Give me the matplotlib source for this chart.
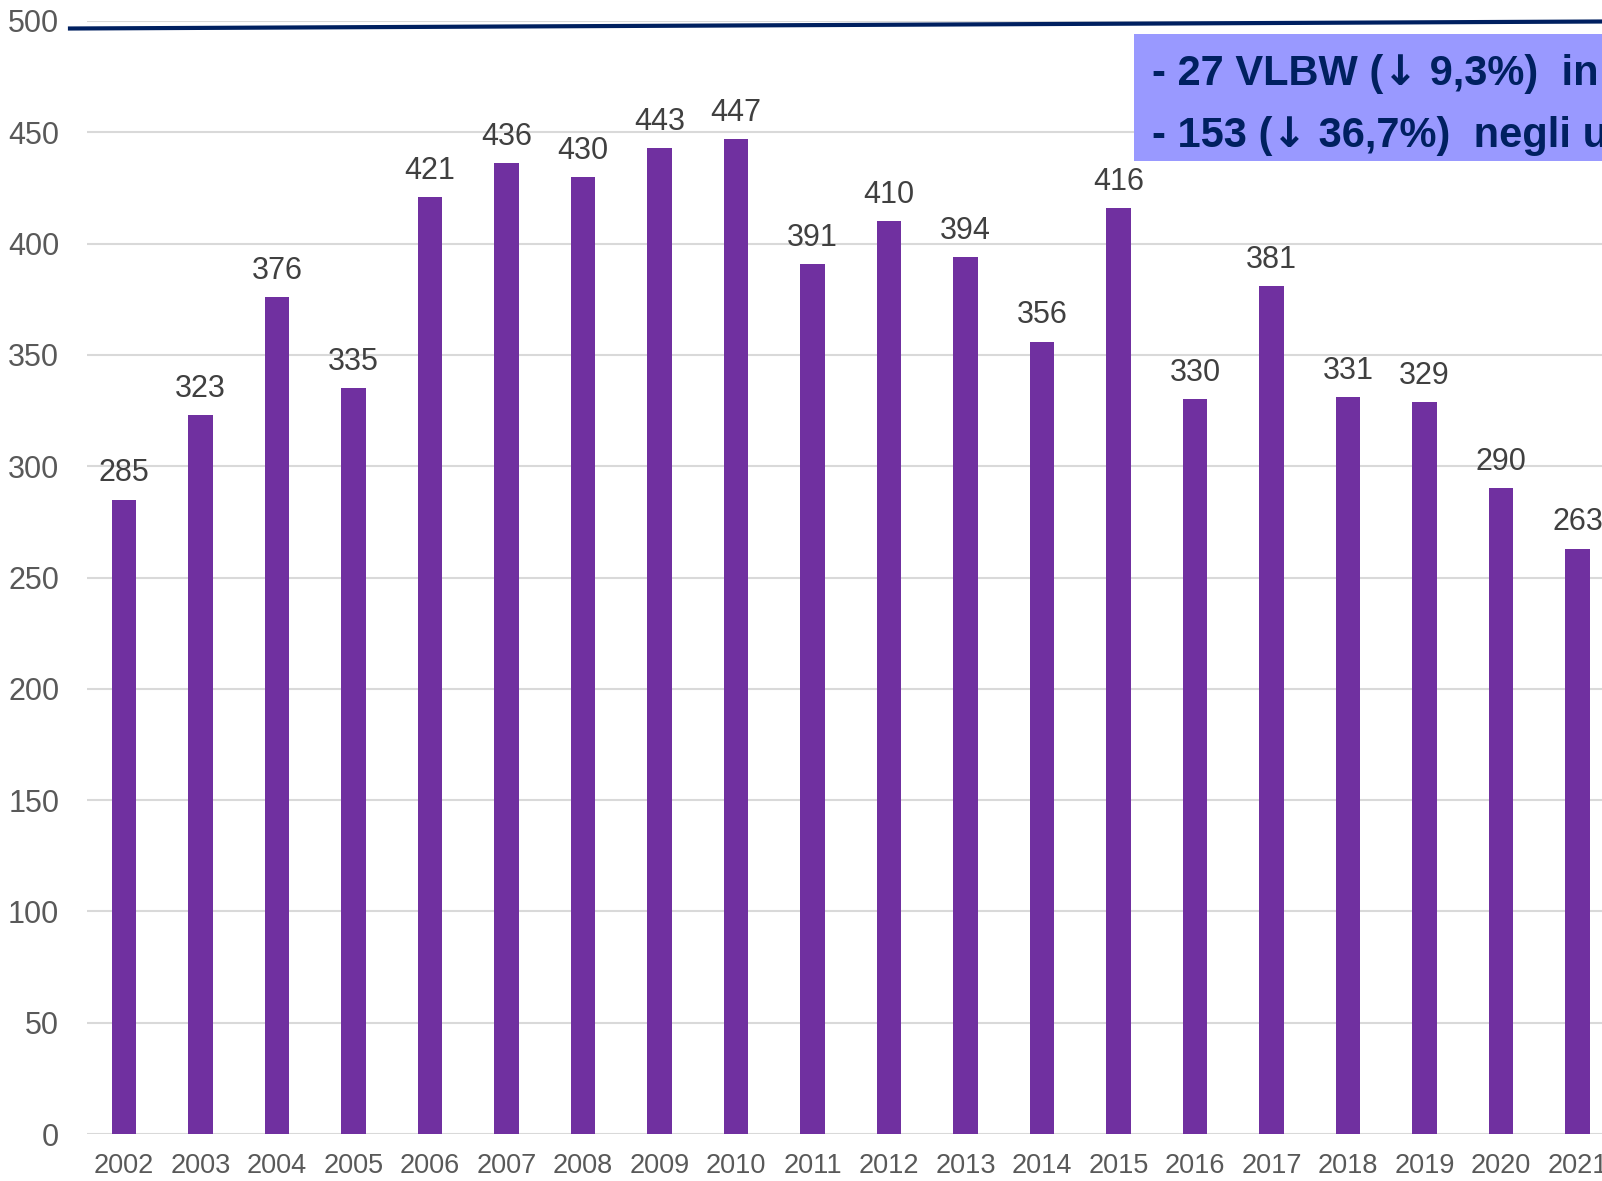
import matplotlib.pyplot as plt
from matplotlib.lines import Line2D
from matplotlib.patches import Rectangle

years = [str(y) for y in range(2002, 2022)]
values = [285, 323, 376, 335, 421, 436, 430, 443, 447, 391,
          410, 394, 356, 416, 330, 381, 331, 329, 290, 263]
yticks = [0, 50, 100, 150, 200, 250, 300, 350, 400, 450, 500]
# note box lines, split around the arrow so it can use another font
box_lines = [("- 27 VLBW (", "\u2193", " 9,3%)  in"),
             ("- 153 (", "\u2193", " 36,7%)  negli u")]

plt.rcParams['font.family'] = ['Liberation Sans', 'DejaVu Sans']

W, H = 1602, 1181
fig = plt.figure(figsize=(W / 100, H / 100), dpi=100)

# axes placed in pixel terms, right side runs off the figure (cropped slide)
left_px, right_px = 87, 1602
bottom_px, top_px = 1134, 21
ax = fig.add_axes([left_px / W, (H - bottom_px) / H,
                   (right_px - left_px) / W, (bottom_px - top_px) / H])

x = list(range(len(years)))
ax.bar(x, values, width=0.32, color='#7030A0', zorder=3)

first_px, step_px = 124, 76.5
ax.set_xlim((left_px - first_px) / step_px, (right_px - first_px) / step_px)
ax.set_ylim(0, 500)
ax.set_yticks(yticks)
ax.set_xticks(x)
ax.set_xticklabels(years)
ax.tick_params(axis='both', length=0, colors='#595959')
ax.tick_params(axis='x', pad=14, labelsize=19.5)
ax.tick_params(axis='y', pad=20, labelsize=22)
for lab in ax.get_xticklabels() + ax.get_yticklabels():
    lab.set_clip_on(False)

ax.grid(axis='y', color='#d9d9d9', linewidth=1.5, zorder=0)
for s in ax.spines.values():
    s.set_visible(False)

for xi, v in zip(x, values):
    ax.annotate(str(v), (xi, v), xytext=(0, 8), textcoords='offset points',
                ha='center', va='bottom', fontsize=22, color='#404040')

# navy rule under the slide title
fig.add_artist(Line2D([70 / W, 1.0], [1 - 28.5 / H, 1 - 21.5 / H],
                      color='#002060', linewidth=3, transform=fig.transFigure))

# highlighted note box (cut at the right edge)
fig.add_artist(Rectangle((1134 / W, 1 - 161 / H), (W - 1134) / W, 127 / H,
                         facecolor='#9999FF', edgecolor='none',
                         transform=fig.transFigure, zorder=5))
txt_style = dict(fontsize=30, fontweight='bold', color='#002060', zorder=6)
for (a, arrow, b), ypx in zip(box_lines, [85, 147]):
    t1 = fig.text(1152 / W, 1 - ypx / H, a, va='baseline', ha='left', **txt_style)
    # chain the pieces so each starts where the previous one ends
    t2 = fig.add_artist(plt.Annotation(arrow, xy=(1, 0), xycoords=t1,
                                       va='bottom', ha='left',
                                       family='DejaVu Sans', **txt_style))
    fig.add_artist(plt.Annotation(b, xy=(1, 0), xycoords=t2,
                                  va='bottom', ha='left', **txt_style))

fig.savefig('out.png', dpi=100)
